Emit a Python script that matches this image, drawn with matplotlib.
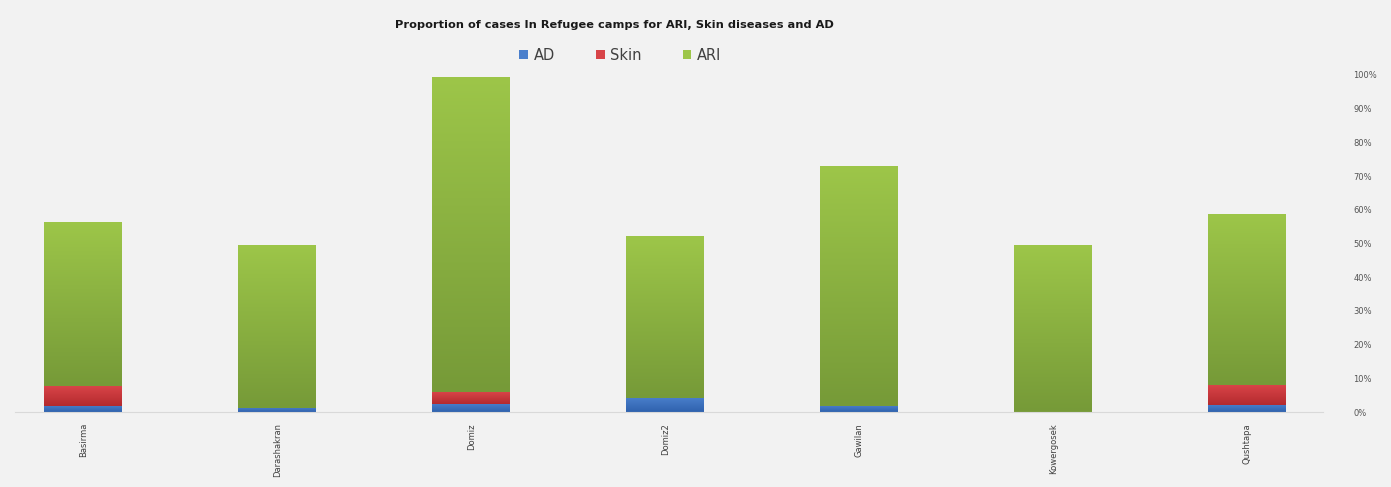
import numpy as np
import matplotlib.pyplot as plt
from matplotlib.colors import LinearSegmentedColormap
from matplotlib.ticker import PercentFormatter

camps = ['Basirma', 'Darashakran', 'Domiz', 'Domiz2', 'Gawilan', 'Kowergosek', 'Qushtapa']
ad = [1.8, 1.2, 2.4, 4.2, 1.8, 0.0, 2.1]
skin = [5.9, 0.0, 3.5, 0.0, 0.0, 0.0, 5.9]
ari = [48.7, 48.4, 93.5, 48.0, 71.2, 49.6, 50.8]

bg = '#f2f2f2'
fig = plt.figure(figsize=(13.91, 4.87), dpi=100, facecolor=bg)
ax = fig.add_axes([0.011, 0.154, 0.940, 0.692], facecolor=bg)

x = np.arange(len(camps))
w = 0.40
ad_a = np.array(ad)
skin_a = np.array(skin)
ari_a = np.array(ari)

series = [
    ('AD', ad_a, np.zeros(len(x)), '#4a7fcc', '#2f62ad'),
    ('Skin', skin_a, ad_a, '#d84448', '#b42a2e'),
    ('ARI', ari_a, ad_a + skin_a, '#9dc649', '#769a38'),
]

grad = np.linspace(1, 0, 256).reshape(-1, 1)
for name, vals, bottom, c_top, c_bot in series:
    cmap = LinearSegmentedColormap.from_list(name, [c_bot, c_top])
    bars = ax.bar(x, vals, w, bottom=bottom, color=c_top, edgecolor='none', label=name)
    for b in bars:
        if b.get_height() <= 0:
            continue
        bx, by = b.get_x(), b.get_y()
        im = ax.imshow(grad, cmap=cmap, aspect='auto', zorder=2,
                       extent=[bx, bx + b.get_width(), by, by + b.get_height()])
        im.set_clip_path(b)

ax.set_xlim(-0.35, 6.39)
ax.set_ylim(0, 100)
ax.yaxis.tick_right()
ax.yaxis.set_major_formatter(PercentFormatter(decimals=0))
ax.set_yticks(np.arange(0, 101, 10))
ax.tick_params(axis='y', length=0, pad=22, labelsize=6, labelcolor='#555555')
ax.set_xticks(x)
ax.set_xticklabels(camps, rotation=90, fontsize=6, color='#404040')
ax.tick_params(axis='x', length=0, pad=8)
for s in ['top', 'right', 'left']:
    ax.spines[s].set_visible(False)
ax.spines['bottom'].set_color('#d9d9d9')

fig.text(0.442, 0.948, 'Proportion of cases In Refugee camps for ARI, Skin diseases and AD',
         ha='center', va='center', fontsize=8.2, fontweight='bold', color='#1a1a1a')
leg = fig.legend(loc='center', bbox_to_anchor=(0.446, 0.887), ncol=3, frameon=False,
                 fontsize=10.5, handlelength=0.6, handleheight=0.6, handletextpad=0.4,
                 columnspacing=2.8)
for t in leg.get_texts():
    t.set_color('#404040')

fig.savefig('out.png', dpi=100, facecolor=bg)
